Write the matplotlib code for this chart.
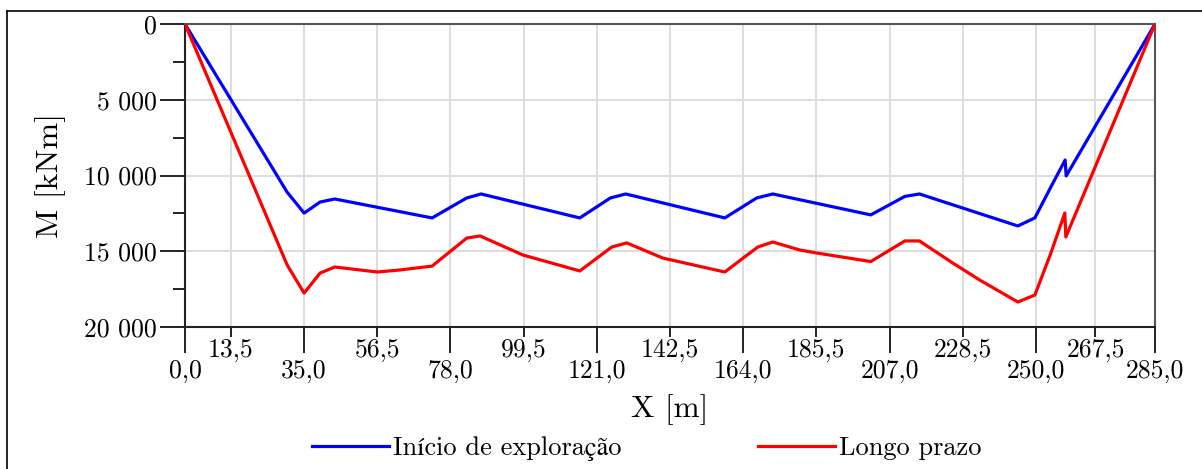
import matplotlib
matplotlib.use("Agg")
import matplotlib.pyplot as plt
from matplotlib.lines import Line2D

plt.rcParams['font.family'] = ['cmr10', 'STIXGeneral']
plt.rcParams['mathtext.fontset'] = 'cm'
plt.rcParams['axes.formatter.use_mathtext'] = True

# Bending moment envelopes along the deck
x_inicio = [0, 30, 35, 39.7, 44, 72.6, 82.8, 87, 116, 125, 129.5, 158.6,
            168, 172.7, 201.5, 211.5, 215.8, 244.7, 249.7, 254.7, 258.6,
            258.9, 285]
m_inicio = [0, 11100, 12480, 11750, 11550, 12800, 11480, 11220, 12800,
            11480, 11220, 12800, 11480, 11220, 12600, 11380, 11220, 13330,
            12800, 10630, 8980, 10030, 0]

x_longo = [0, 30, 35, 39.7, 44, 56.5, 63, 72.6, 82.8, 86.7, 99.3, 116,
           125.4, 129.8, 140.4, 158.6, 168.3, 172.7, 180.7, 185.7, 201.5,
           211.5, 215.8, 225.6, 233.5, 244.7, 249.7, 254.2, 258.5, 258.8, 285]
m_longo = [0, 15900, 17760, 16440, 16040, 16370, 16240, 15980, 14130,
           13990, 15250, 16300, 14720, 14450, 15450, 16370, 14720, 14390,
           14920, 15120, 15680, 14320, 14320, 15780, 16900, 18350, 17890,
           15250, 12480, 14060, 0]

xticks_low = [0, 35, 78, 121, 164, 207, 250, 285]
xticks_high = [13.5, 56.5, 99.5, 142.5, 185.5, 228.5, 267.5]
yticks = [0, 5000, 10000, 15000, 20000]
yticks_minor = [2500, 7500, 12500, 17500]


def fmt_x(v):
    return f"{v:.1f}".replace(".", ",")


def fmt_y(v):
    return f"{v:,.0f}".replace(",", " ")


fig = plt.figure(figsize=(12.02, 4.69), dpi=100)
ax = fig.add_axes([185 / 1202, 1 - 327 / 469, 970 / 1202, 303 / 469])

ax.plot(x_inicio, m_inicio, color='#0000ff', lw=2.3,
        label='Início de exploração', zorder=3)
ax.plot(x_longo, m_longo, color='#ff0000', lw=2.3,
        label='Longo prazo', zorder=3)

ax.set_xlim(0, 285)
ax.set_ylim(20000, 0)

ax.set_xticks(xticks_low)
ax.set_xticklabels([fmt_x(v) for v in xticks_low])
ax.set_xticks(xticks_high, minor=True)
ax.set_xticklabels([fmt_x(v) for v in xticks_high], minor=True)
ax.set_yticks(yticks)
ax.set_yticklabels([fmt_y(v) for v in yticks])
ax.set_yticks(yticks_minor, minor=True)

ax.tick_params(axis='x', which='major', length=19, width=1.4, pad=4,
               labelsize=18.5, color='#222222')
ax.tick_params(axis='x', which='minor', length=7, width=1.4, pad=1,
               labelsize=18.5, color='#222222')
ax.tick_params(axis='y', which='major', length=18, width=1.4, pad=2,
               labelsize=18.5, color='#222222')
ax.tick_params(axis='y', which='minor', length=9, width=1.4,
               color='#222222')

ax.grid(True, which='major', color='#dddddd', lw=1.4, zorder=0)
ax.grid(True, which='minor', axis='x', color='#dddddd', lw=1.4, zorder=0)

for side in ['left', 'bottom']:
    ax.spines[side].set_color('#222222')
    ax.spines[side].set_linewidth(1.5)
for side in ['top', 'right']:
    ax.spines[side].set_color('#555555')
    ax.spines[side].set_linewidth(1.5)

ax.set_xlabel('X [m]', fontsize=22.5, labelpad=8)
ax.set_ylabel('M [kNm]', fontsize=23, labelpad=13)

fig.legend(loc='center', bbox_to_anchor=(0.538, 1 - 449 / 469), ncol=2,
           frameon=False, fontsize=19, handlelength=2.9, handletextpad=0.15,
           columnspacing=5.2)

# frame around the figure
fig.add_artist(Line2D([7 / 1202, 7 / 1202], [0, 1 - 11 / 469],
                      transform=fig.transFigure, color='black', lw=1.2))
fig.add_artist(Line2D([7 / 1202, 1], [1 - 11 / 469, 1 - 11 / 469],
                      transform=fig.transFigure, color='black', lw=1.2))

fig.savefig('out.png', dpi=100)
